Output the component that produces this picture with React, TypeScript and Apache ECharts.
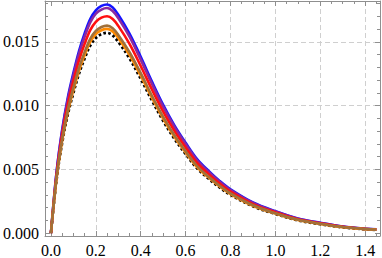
import React, { useEffect, useRef } from "react";
import * as echarts from "echarts";

const xs = [0, 0.025, 0.05, 0.075, 0.1, 0.125, 0.15, 0.175, 0.2, 0.225, 0.25, 0.275, 0.3, 0.35, 0.4, 0.45, 0.5, 0.55, 0.6, 0.65, 0.7, 0.75, 0.8, 0.9, 1.0, 1.1, 1.2, 1.3, 1.4, 1.45];

const blackVals = [0, 0.0042, 0.0071, 0.0093, 0.011, 0.0125, 0.0137, 0.0147, 0.0153, 0.0156, 0.0157, 0.0155, 0.015, 0.0137, 0.0121, 0.0104, 0.0088, 0.0074, 0.0062, 0.0051, 0.0043, 0.0036, 0.003, 0.0021, 0.0015, 0.001, 0.0007, 0.00045, 0.0003, 0.00025];
const blueVals = [0, 0.0048, 0.0081, 0.01062, 0.01256, 0.01428, 0.01565, 0.01679, 0.01747, 0.01782, 0.01793, 0.0177, 0.01713, 0.01565, 0.01382, 0.01188, 0.01005, 0.00845, 0.00708, 0.00582, 0.00491, 0.00411, 0.00343, 0.0024, 0.00171, 0.00114, 0.0008, 0.00051, 0.00034, 0.00029];
const purpleVals = [0, 0.00472, 0.00798, 0.01045, 0.01236, 0.01405, 0.0154, 0.01652, 0.0172, 0.01753, 0.01765, 0.01742, 0.01686, 0.0154, 0.0136, 0.01169, 0.00989, 0.00832, 0.00697, 0.00573, 0.00483, 0.00405, 0.00337, 0.00236, 0.00169, 0.00112, 0.00079, 0.00051, 0.00034, 0.00028];
const redVals = [0, 0.00455, 0.00769, 0.01007, 0.01191, 0.01354, 0.01484, 0.01592, 0.01657, 0.01689, 0.017, 0.01679, 0.01625, 0.01484, 0.0131, 0.01126, 0.00953, 0.00801, 0.00671, 0.00552, 0.00466, 0.0039, 0.00325, 0.00227, 0.00162, 0.00108, 0.00076, 0.00049, 0.00032, 0.00027];
const orangeVals = [0, 0.00428, 0.00724, 0.00949, 0.01122, 0.01275, 0.01397, 0.01499, 0.01561, 0.01591, 0.01601, 0.01581, 0.0153, 0.01397, 0.01234, 0.01061, 0.00898, 0.00755, 0.00632, 0.0052, 0.00439, 0.00367, 0.00306, 0.00214, 0.00153, 0.00102, 0.00071, 0.00046, 0.00031, 0.00026];
const brownVals = [0, 0.00435, 0.00736, 0.00963, 0.0114, 0.01295, 0.01419, 0.01523, 0.01585, 0.01616, 0.01627, 0.01606, 0.01554, 0.01419, 0.01254, 0.01077, 0.00912, 0.00767, 0.00642, 0.00528, 0.00445, 0.00373, 0.00311, 0.00218, 0.00155, 0.00104, 0.00073, 0.00047, 0.00031, 0.00026];

const xMajorTicks = [0, 0.2, 0.4, 0.6, 0.8, 1.0, 1.2, 1.4];
const xMinorTicks = [0.05, 0.1, 0.15, 0.25, 0.3, 0.35, 0.45, 0.5, 0.55, 0.65, 0.7, 0.75, 0.85, 0.9, 0.95, 1.05, 1.1, 1.15, 1.25, 1.3, 1.35, 1.45];
const yMajorTicks = [0, 0.005, 0.01, 0.015];
const yMinorTicks = [0.001, 0.002, 0.003, 0.004, 0.006, 0.007, 0.008, 0.009, 0.011, 0.012, 0.013, 0.014, 0.016, 0.017, 0.018];
const xGridLines = [0.2, 0.4, 0.6, 0.8, 1.0, 1.2, 1.4];
const yGridLines = [0.005, 0.01, 0.015];

const X_MIN = -0.0265;
const X_MAX = 1.466;
const Y_MIN = -0.00023;
const Y_MAX = 0.0182;

const FRAME = "#8f8f8f";
const GRID = "#cfcfcf";
const FONT = "'Liberation Serif', 'DejaVu Serif', serif";

export default function App() {
  const ref = useRef<HTMLDivElement>(null);
  useEffect(() => {
    if (!ref.current) return;
    const chart = echarts.init(ref.current, null, { renderer: "svg" });
    const mk = (vals: number[]) => xs.map((x, i) => [x, vals[i]]);
    const base = { min: X_MIN, max: X_MAX, type: "value" as const };
    const ybase = { min: Y_MIN, max: Y_MAX, type: "value" as const };
    const line = { show: true, onZero: false, lineStyle: { color: FRAME, width: 1 } };
    const noLine = { show: false, onZero: false };
    const majorTick = (vals: number[]) => ({ show: true, inside: true, length: 5, customValues: vals, lineStyle: { color: FRAME, width: 1 } });
    const minorTick = (vals: number[]) => ({ show: true, inside: true, length: 3, customValues: vals, lineStyle: { color: FRAME, width: 1 } });
    const noLabel = { show: false };
    const noSplit = { show: false };
    const gridSplit = { show: true, lineStyle: { color: GRID, width: 1, type: [5, 3] } };

    const series = [
      { name: "black", vals: blackVals, color: "#000000", type: [2.6, 2.3] },
      { name: "blue", vals: blueVals, color: "#1414ff", type: "solid" },
      { name: "purple", vals: purpleVals, color: "#8a2aa0", type: "solid" },
      { name: "red", vals: redVals, color: "#ff1010", type: "solid" },
      { name: "orange", vals: orangeVals, color: "#ff8a00", type: "solid" },
      { name: "brown", vals: brownVals, color: "#a0703a", type: "solid" },
    ].map((s, i) => ({
      type: "line",
      name: s.name,
      data: mk(s.vals),
      xAxisIndex: 0,
      yAxisIndex: 0,
      smooth: 0.35,
      showSymbol: false,
      symbol: "none",
      z: 2 + i,
      lineStyle: { color: s.color, width: s.name === "black" ? 2.8 : 2.6, type: s.type },
    }));

    chart.setOption({
      animation: false,
      backgroundColor: "#ffffff",
      textStyle: { fontFamily: FONT },
      grid: { left: 42, right: 2, top: 1, bottom: 21, containLabel: false },
      xAxis: [
        {
          ...base, position: "bottom", axisLine: line, axisTick: majorTick(xMajorTicks),
          axisLabel: { show: true, customValues: xMajorTicks, margin: 6, color: "#000", fontFamily: FONT, fontSize: 16, formatter: (v: number) => v.toFixed(1) },
          splitLine: noSplit,
        },
        { ...base, position: "bottom", axisLine: noLine, axisTick: minorTick(xMinorTicks), axisLabel: noLabel, splitLine: noSplit },
        { ...base, position: "top", axisLine: line, axisTick: majorTick(xMajorTicks), axisLabel: noLabel, splitLine: noSplit },
        { ...base, position: "top", axisLine: noLine, axisTick: minorTick(xMinorTicks), axisLabel: noLabel, splitLine: noSplit },
        { ...base, position: "bottom", axisLine: noLine, axisTick: { show: false, customValues: xGridLines }, axisLabel: noLabel, splitLine: gridSplit },
      ],
      yAxis: [
        {
          ...ybase, position: "left", axisLine: line, axisTick: majorTick(yMajorTicks),
          axisLabel: { show: true, customValues: yMajorTicks, margin: 6, color: "#000", fontFamily: FONT, fontSize: 16, formatter: (v: number) => v.toFixed(3) },
          splitLine: noSplit,
        },
        { ...ybase, position: "left", axisLine: noLine, axisTick: minorTick(yMinorTicks), axisLabel: noLabel, splitLine: noSplit },
        { ...ybase, position: "right", axisLine: line, axisTick: majorTick(yMajorTicks), axisLabel: noLabel, splitLine: noSplit },
        { ...ybase, position: "right", axisLine: noLine, axisTick: minorTick(yMinorTicks), axisLabel: noLabel, splitLine: noSplit },
        { ...ybase, position: "left", axisLine: noLine, axisTick: { show: false, customValues: yGridLines }, axisLabel: noLabel, splitLine: gridSplit },
      ],
      series,
    });
    return () => chart.dispose();
  }, []);
  return <div ref={ref} style={{ position: "fixed", left: 0, top: 0, width: 382, height: 258 }} />;
}
